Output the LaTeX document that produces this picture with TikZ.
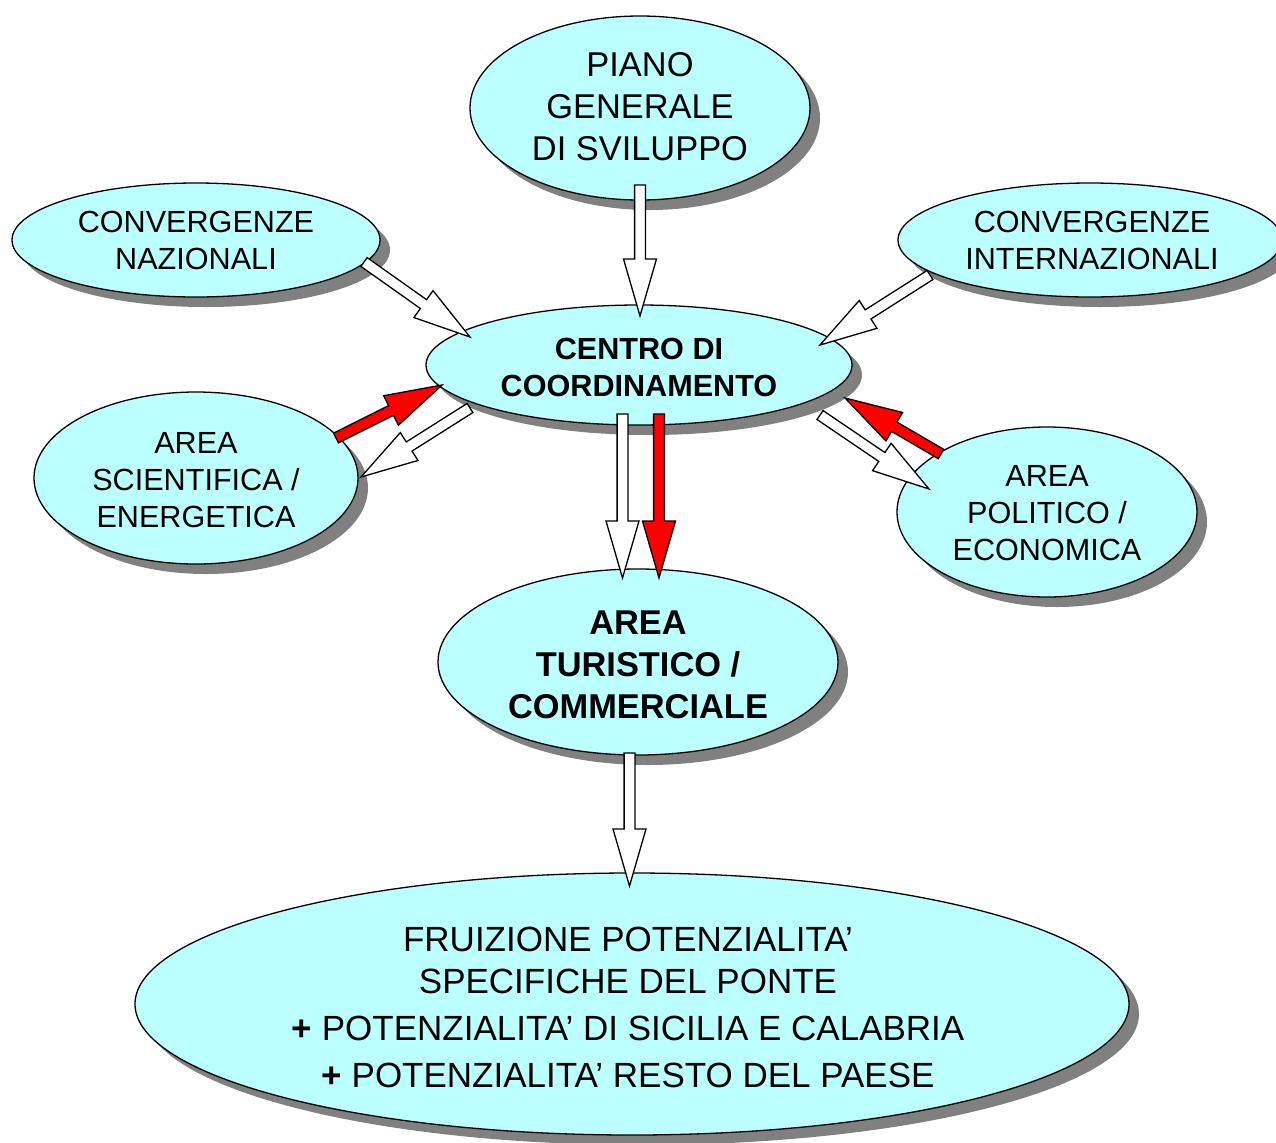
\documentclass[tikz,border=0pt]{standalone}
\usepackage{fontspec}
\setmainfont{Liberation Sans}
\usetikzlibrary{shapes.geometric,shadows,calc}
\definecolor{cyanfill}{RGB}{187,255,255}
\definecolor{shadowgray}{RGB}{128,128,128}
\definecolor{arrred}{RGB}{255,0,0}
\newcommand\smallf{\fontsize{15.3pt}{18.5pt}\selectfont}
\newcommand\bigf{\fontsize{17.2pt}{21pt}\selectfont}
\newcommand\fruizf{\fontsize{17.5pt}{21pt}\selectfont}
\newcommand\blockarr[3]{%
  \coordinate (bh) at ($(#3)!28.5pt!(#2)$);
  \draw[blockstyle, fill=#1]
    ($(#2)!2.7pt!90:(#3)$) -- ($(bh)!2.7pt!-90:(#2)$) -- ($(bh)!8.25pt!-90:(#2)$) -- (#3)
    -- ($(bh)!8.25pt!90:(#2)$) -- ($(bh)!2.7pt!90:(#2)$) -- ($(#2)!2.7pt!-90:(#3)$) -- cycle;
}
\tikzset{
  ell/.style={ellipse, draw=black, line width=0.65pt, fill=cyanfill, inner sep=0pt,
    drop shadow={shadow xshift=5pt, shadow yshift=-5pt, fill=shadowgray, opacity=1, draw=none}},
  txt/.style={align=center, inner sep=0pt, text=black},
  blockstyle/.style={draw=black, line width=0.65pt, line join=miter}
}
\begin{document}
\begin{tikzpicture}[x=0.5pt,y=-0.5pt]
\useasboundingbox (0,0) rectangle (1276,1142);
% ellipses
\node[ell, minimum width=170pt, minimum height=92pt] (piano) at (640,108) {};
\node[ell, minimum width=184pt, minimum height=57pt] (cnaz) at (196,240) {};
\node[ell, minimum width=192pt, minimum height=57pt] (cint) at (1090,240) {};
\node[ell, minimum width=213pt, minimum height=60pt] (centro) at (639,365) {};
\node[ell, minimum width=162pt, minimum height=86pt] (scient) at (196,478) {};
\node[ell, minimum width=150pt, minimum height=85pt] (polit) at (1047,512) {};
\node[ell, minimum width=200pt, minimum height=93pt] (tur) at (638,662) {};
\node[ell, minimum width=497pt, minimum height=131pt] (fruiz) at (632,1004) {};
% texts
\node[txt, font=\bigf] (pianotxt) at (640,107) {PIANO\\GENERALE\\DI SVILUPPO};
\node[txt, font=\smallf] (cnaztxt) at (196,240) {CONVERGENZE\\NAZIONALI};
\node[txt, font=\smallf] (cinttxt) at (1092,240) {CONVERGENZE\\INTERNAZIONALI};
\node[txt, font=\smallf\bfseries] (centrotxt) at (639,367) {CENTRO DI\\COORDINAMENTO};
\node[txt, font=\smallf] (scienttxt) at (196,480) {AREA\\SCIENTIFICA /\\ENERGETICA};
\node[txt, font=\smallf] (polittxt) at (1047,513) {AREA\\POLITICO /\\ECONOMICA};
\node[txt, font=\bigf\bfseries] (turtxt) at (638,665) {AREA\\TURISTICO /\\COMMERCIALE};
\node[txt, font=\fruizf] (fruiztxt) at (628,1007) {FRUIZIONE POTENZIALITA’\\SPECIFICHE DEL PONTE\\[2.5pt]
  \textbf{+} POTENZIALITA’ DI SICILIA E CALABRIA\\[2.5pt]\textbf{+} POTENZIALITA’ RESTO DEL PAESE};
% arrow end points
\coordinate (a1s) at (640,185);  \coordinate (a1e) at (640,316);
\coordinate (a2s) at (364,262);  \coordinate (a2e) at (470,337);
\coordinate (a3s) at (930,275);  \coordinate (a3e) at (820,345);
\coordinate (a4s) at (470,408);  \coordinate (a4e) at (361,477);
\coordinate (a5s) at (336,438);  \coordinate (a5e) at (442,385);
\coordinate (a6s) at (820,415);  \coordinate (a6e) at (929,489);
\coordinate (a7s) at (941,454);  \coordinate (a7e) at (845,398);
\coordinate (a8s) at (622.5,414); \coordinate (a8e) at (622.5,578);
\coordinate (a9s) at (659,414);  \coordinate (a9e) at (659,578);
\coordinate (a10s) at (629.5,753); \coordinate (a10e) at (629.5,886);
% arrows
\blockarr{white}{a1s}{a1e}
\blockarr{white}{a2s}{a2e}
\blockarr{white}{a3s}{a3e}
\blockarr{white}{a4s}{a4e}
\blockarr{arrred}{a5s}{a5e}
\blockarr{white}{a6s}{a6e}
\blockarr{arrred}{a7s}{a7e}
\blockarr{white}{a8s}{a8e}
\blockarr{arrred}{a9s}{a9e}
\blockarr{white}{a10s}{a10e}
\end{tikzpicture}
\end{document}
